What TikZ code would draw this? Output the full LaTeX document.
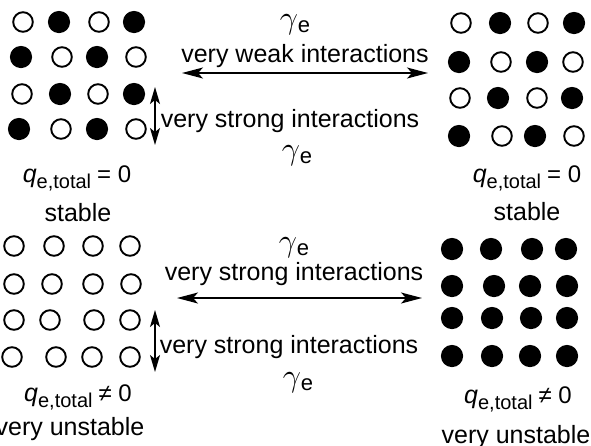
\documentclass[tikz,border=0pt]{standalone}
\usepackage{graphicx}
\usepackage{fontspec}
\setmainfont{Liberation Sans}
\usetikzlibrary{arrows.meta}

% text pieces
\newcommand\gammae{\scalebox{1.3}{$\gamma$}\raisebox{-4pt}{\fontsize{22}{22}\selectfont e}}
\newcommand\qtotal[1]{{\itshape q}\raisebox{-6pt}{\fontsize{20}{20}\selectfont e,total}\hspace{6pt}{\fontsize{24}{24}\selectfont #1 0}}

\begin{document}
\begin{tikzpicture}[x=1pt, y=-1pt,
  every node/.style={font=\fontsize{25}{30}\selectfont, inner sep=0pt},
  odot/.style={circle, draw, line width=1.9pt, minimum size=19.6pt, inner sep=0pt},
  fdot/.style={circle, fill, minimum size=22.2pt, inner sep=0pt},
  label/.style={anchor=base},
  harrow/.style={line width=1.5pt, {Stealth[length=21pt, width=11pt, inset=5pt]}-{Stealth[length=21pt, width=11pt, inset=5pt]}},
  varrow/.style={line width=1.5pt, {Stealth[length=17pt, width=10pt, inset=4pt]}-{Stealth[length=17pt, width=10pt, inset=4pt]}}]
\useasboundingbox (0,0) rectangle (591,445);

% upper left lattice: alternating charges
\foreach \x/\y/\k [count=\i] in {
  23/22/odot, 59/22/fdot, 99/22/odot, 134/22/fdot,
  21/57/fdot, 62/57/odot, 97/57/fdot, 136/57/odot,
  22/94/odot, 60/94/fdot, 98/94/odot, 134/94/fdot,
  19/129/fdot, 61/129/odot, 97/129/fdot, 136/129/odot}
  \node[\k] (ul\i) at (\x,\y) {};

% upper right lattice
\foreach \x/\y/\k [count=\i] in {
  461/23/odot, 500/23/fdot, 538/23/odot, 574/23/fdot,
  459/62/fdot, 501/62/odot, 537/62/fdot, 573/62/odot,
  460/98/odot, 498/98/fdot, 537/98/odot, 572/98/fdot,
  459/136/fdot, 502/136/odot, 535/136/fdot, 574/136/odot}
  \node[\k] (ur\i) at (\x,\y) {};

% lower left lattice: all empty
\foreach \x/\y [count=\i] in {
  14/246, 54/246, 93/246, 130/246,
  14/284, 52/284, 93/284, 131/284,
  14/320, 50/320, 94/320, 130/320,
  12/357, 56/357, 92/357, 130/357}
  \node[odot] (ll\i) at (\x,\y) {};

% lower right lattice: all filled
\foreach \x/\y [count=\i] in {
  452/249, 491/249, 532/249, 566/249,
  452/286, 494/286, 530/286, 567/286,
  452/318, 492/318, 531/318, 567/318,
  452/356, 492/356, 530/356, 567/356}
  \node[fdot] (lr\i) at (\x,\y) {};

% labels under the lattices
\node[label] (ulq) at (77,182) {\qtotal{=}};
\node[label] (uls) at (78,221) {stable};
\node[label] (urq) at (527,182) {\qtotal{=}};
\node[label] (urs) at (527,220) {stable};
\node[label] (llq) at (78,401) {\qtotal{≠}};
\node[label] (llu) at (70,435) {very unstable};
\node[label] (lrq) at (518,403) {\qtotal{≠}};
\node[label] (lru) at (516,443) {very unstable};

% upper interactions
\node[label] (ug1) at (295,28) {\gammae};
\node[label] (uweak) at (305,62) {very weak interactions};
\coordinate (uhl) at (182,73);
\coordinate (uhr) at (428,73);
\draw[harrow] (uhl) -- (uhr);
\coordinate (uvt) at (155,87);
\coordinate (uvb) at (155,145);
\draw[varrow] (uvt) -- (uvb);
\node[label] (ustrong) at (290,127) {very strong interactions};
\node[label] (ug2) at (297,159) {\gammae};

% lower interactions
\node[label] (lg1) at (294,251) {\gammae};
\node[label] (lstrong1) at (294,280) {very strong interactions};
\coordinate (lhl) at (177,298);
\coordinate (lhr) at (422,298);
\draw[harrow] (lhl) -- (lhr);
\coordinate (lvt) at (155,310);
\coordinate (lvb) at (155,372);
\draw[varrow] (lvt) -- (lvb);
\node[label] (lstrong2) at (289,353) {very strong interactions};
\node[label] (lg2) at (298,386) {\gammae};
\end{tikzpicture}
\end{document}
